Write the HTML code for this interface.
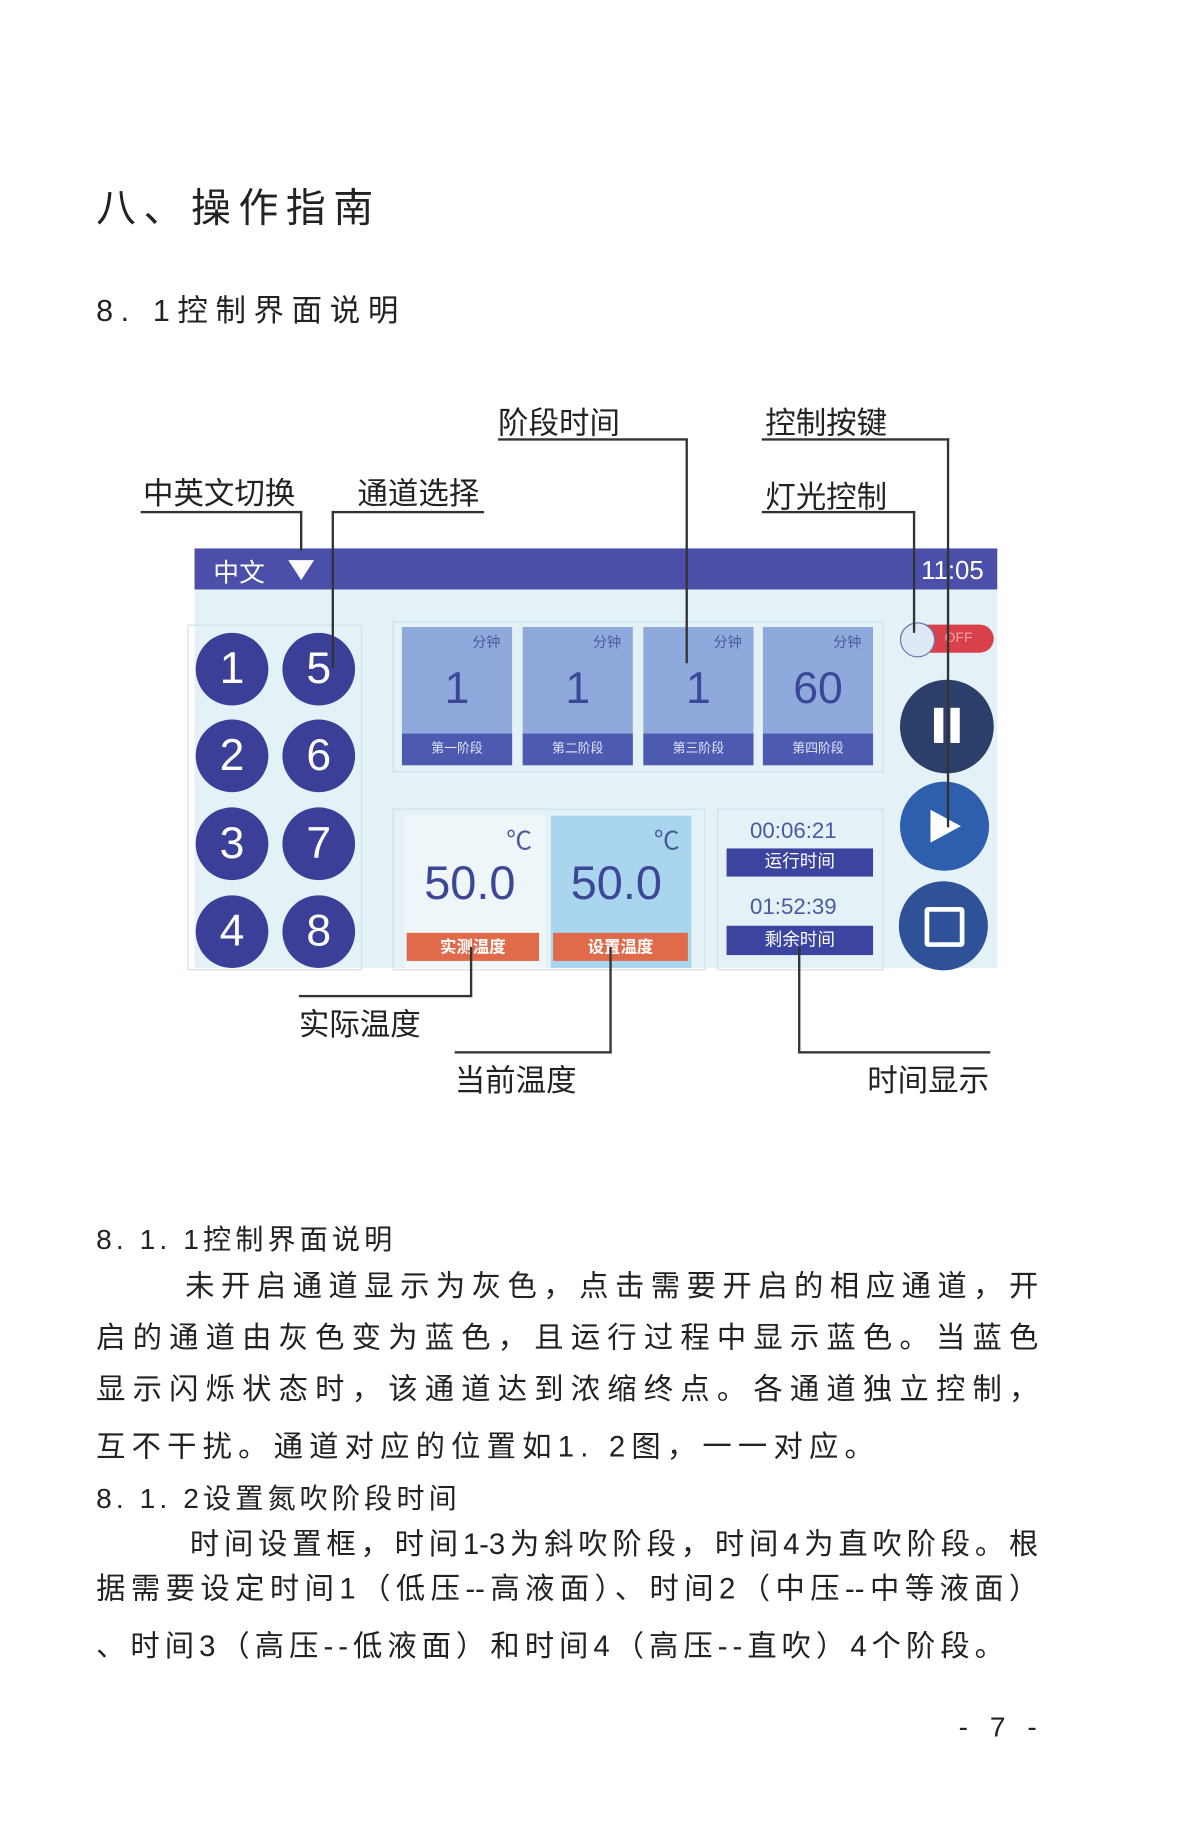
<!DOCTYPE html>
<html><head><meta charset="utf-8"><style>
html,body{margin:0;padding:0;background:#fff;width:1200px;height:1844px;overflow:hidden}
#w{position:absolute;left:0;top:0;width:1024px;height:1574px;transform:scale(1.171875);transform-origin:0 0;font-family:"Liberation Sans","Noto Sans CJK SC",sans-serif;color:#222}
.a{position:absolute;white-space:nowrap}
.l{position:absolute;background:#333}
.j{position:absolute;font-size:25px;text-align:justify;text-align-last:justify;white-space:nowrap;height:30px;line-height:30px}
.c{position:absolute;border-radius:50%;background:#3b3f98;color:#fff;font-size:38px;text-align:center}
.box{position:absolute;top:535px;width:94px;height:118px;background:#8fa9dc}
.box .u{position:absolute;right:10px;top:4px;font-size:12px;color:#4a5a9a}
.box .n{position:absolute;left:0;right:0;top:32px;text-align:center;font-size:38px;color:#3c4796}
.box .b{position:absolute;left:0;right:0;bottom:0;height:27px;background:#4c5bb0;color:#dfe4ff;font-size:11px;text-align:center;line-height:27px}
</style></head><body><div id="w">
<div class="a" style="left:82px;top:150px;font-size:34px;letter-spacing:6.5px">八、操作指南</div>
<div class="a" style="left:82px;top:245px;font-size:26px;letter-spacing:6.5px">8. 1控制界面说明</div>

<!-- top labels -->
<div class="a" style="left:425px;top:341px;font-size:26px">阶段时间</div>
<div class="a" style="left:653px;top:341px;font-size:26px">控制按键</div>
<div class="a" style="left:122px;top:401px;font-size:26px">中英文切换</div>
<div class="a" style="left:305px;top:401px;font-size:26px">通道选择</div>
<div class="a" style="left:653px;top:404px;font-size:26px">灯光控制</div>

<!-- screen -->
<div style="position:absolute;left:166px;top:468px;width:685px;height:358px;background:#e4f2f7"></div>
<div style="position:absolute;left:166px;top:468px;width:685px;height:35px;background:#4b4fa9"></div>
<div class="a" style="left:182px;top:471px;font-size:22px;color:#fff">中文</div>
<div style="position:absolute;left:246px;top:478px;width:0;height:0;border-left:11px solid transparent;border-right:11px solid transparent;border-top:17px solid #fff"></div>
<div class="a" style="left:786px;top:474px;font-size:22px;color:#fff">11:05</div>
<div style="position:absolute;left:160px;top:533px;width:147px;height:293px;border:1px solid #cfe0ea"></div>
<div class="c" style="left:167px;top:540px;width:62px;height:62px;line-height:62px">1</div>
<div class="c" style="left:241px;top:540px;width:62px;height:62px;line-height:62px">5</div>
<div class="c" style="left:167px;top:614px;width:62px;height:62px;line-height:62px">2</div>
<div class="c" style="left:241px;top:614px;width:62px;height:62px;line-height:62px">6</div>
<div class="c" style="left:167px;top:689px;width:62px;height:62px;line-height:62px">3</div>
<div class="c" style="left:241px;top:689px;width:62px;height:62px;line-height:62px">7</div>
<div class="c" style="left:167px;top:764px;width:62px;height:62px;line-height:62px">4</div>
<div class="c" style="left:241px;top:764px;width:62px;height:62px;line-height:62px">8</div>

<div style="position:absolute;left:335px;top:530px;width:417px;height:127px;border:1px solid #cfe0ea"></div>
<div class="box" style="left:343px"><div class="u">分钟</div><div class="n">1</div><div class="b">第一阶段</div></div>
<div class="box" style="left:446px"><div class="u">分钟</div><div class="n">1</div><div class="b">第二阶段</div></div>
<div class="box" style="left:549px"><div class="u">分钟</div><div class="n">1</div><div class="b">第三阶段</div></div>
<div class="box" style="left:651px"><div class="u">分钟</div><div class="n">60</div><div class="b">第四阶段</div></div>

<div style="position:absolute;left:768px;top:533px;width:80px;height:24px;border-radius:12px;background:#d8404a"></div>
<div class="a" style="left:806px;top:537px;font-size:12px;color:#f5a0a0">OFF</div>
<div style="position:absolute;left:768px;top:531px;width:28px;height:28px;border-radius:50%;background:#dfe8f5;border:1px solid #6a78b0"></div>
<div style="position:absolute;left:768px;top:580px;width:80px;height:80px;border-radius:50%;background:#2c3f6a"></div>
<div style="position:absolute;left:797px;top:604px;width:8px;height:30px;background:#fff"></div>
<div style="position:absolute;left:811px;top:604px;width:8px;height:30px;background:#fff"></div>
<div style="position:absolute;left:768px;top:667px;width:76px;height:76px;border-radius:50%;background:#2e5eae"></div>
<div style="position:absolute;left:794px;top:691px;width:0;height:0;border-top:14px solid transparent;border-bottom:14px solid transparent;border-left:26px solid #fff"></div>
<div style="position:absolute;left:767px;top:752px;width:76px;height:76px;border-radius:50%;background:#2e5198"></div>
<div style="position:absolute;left:789px;top:774px;width:26px;height:26px;border:4px solid #fff;border-radius:3px"></div>

<div style="position:absolute;left:335px;top:690px;width:265px;height:136px;border:1px solid #cfe0ea"></div>
<div style="position:absolute;left:345px;top:696px;width:120px;height:130px;background:#eef6fa"></div>
<div style="position:absolute;left:470px;top:696px;width:120px;height:130px;background:#a9d5ef"></div>
<div class="a" style="left:432px;top:700px;font-size:22px;color:#4a5aa0">℃</div>
<div class="a" style="left:558px;top:700px;font-size:22px;color:#4a5aa0">℃</div>
<div class="a" style="left:362px;top:732px;font-size:40px;color:#3c4796">50.0</div>
<div class="a" style="left:487px;top:732px;font-size:40px;color:#3c4796">50.0</div>
<div style="position:absolute;left:347px;top:796px;width:113px;height:24px;background:#df6b4b;color:#fff;font-size:14px;text-align:center;line-height:24px;font-weight:bold">实测温度</div>
<div style="position:absolute;left:472px;top:796px;width:115px;height:24px;background:#df6b4b;color:#fff;font-size:14px;text-align:center;line-height:24px;font-weight:bold">设置温度</div>

<div style="position:absolute;left:612px;top:690px;width:140px;height:136px;border:1px solid #cfe0ea"></div>
<div class="a" style="left:640px;top:699px;font-size:19px;color:#4a5aa0">00:06:21</div>
<div style="position:absolute;left:620px;top:724px;width:125px;height:24px;background:#3b449e;color:#fff;font-size:15px;text-align:center;line-height:24px">运行时间</div>
<div class="a" style="left:640px;top:764px;font-size:19px;color:#4a5aa0">01:52:39</div>
<div style="position:absolute;left:620px;top:790px;width:125px;height:25px;background:#3b449e;color:#fff;font-size:15px;text-align:center;line-height:25px">剩余时间</div>

<!-- leader lines -->
<div class="l" style="left:425px;top:374px;width:161px;height:2px"></div>
<div class="l" style="left:585px;top:374px;width:2px;height:192px"></div>
<div class="l" style="left:650px;top:374px;width:160px;height:2px"></div>
<div class="l" style="left:808px;top:374px;width:2px;height:332px"></div>
<div class="l" style="left:120px;top:436px;width:138px;height:2px"></div>
<div class="l" style="left:256px;top:436px;width:2px;height:34px"></div>
<div class="l" style="left:283px;top:436px;width:130px;height:2px"></div>
<div class="l" style="left:283px;top:436px;width:2px;height:134px"></div>
<div class="l" style="left:650px;top:436px;width:131px;height:2px"></div>
<div class="l" style="left:779px;top:436px;width:2px;height:104px"></div>
<div class="l" style="left:401px;top:808px;width:2px;height:42px"></div>
<div class="l" style="left:255px;top:849px;width:148px;height:2px"></div>
<div class="a" style="left:255px;top:854px;font-size:26px">实际温度</div>
<div class="l" style="left:520px;top:808px;width:2px;height:90px"></div>
<div class="l" style="left:388px;top:897px;width:134px;height:2px"></div>
<div class="a" style="left:388px;top:902px;font-size:26px">当前温度</div>
<div class="l" style="left:681px;top:808px;width:2px;height:90px"></div>
<div class="l" style="left:681px;top:897px;width:164px;height:2px"></div>
<div class="a" style="left:740px;top:902px;font-size:26px">时间显示</div>

<!-- body text -->
<div class="a" style="left:82px;top:1038px;font-size:24px;letter-spacing:3.5px">8. 1. 1控制界面说明</div>
<div class="j" style="left:158px;top:1083px;width:728px">未开启通道显示为灰色，点击需要开启的相应通道，开</div>
<div class="j" style="left:82px;top:1127px;width:804px">启的通道由灰色变为蓝色，且运行过程中显示蓝色。当蓝色</div>
<div class="j" style="left:82px;top:1171px;width:804px">显示闪烁状态时，该通道达到浓缩终点。各通道独立控制，</div>
<div class="a" style="left:82px;top:1215px;font-size:25px;letter-spacing:5.3px">互不干扰。通道对应的位置如1. 2图，一一对应。</div>
<div class="a" style="left:82px;top:1259px;font-size:24px;letter-spacing:3.5px">8. 1. 2设置氮吹阶段时间</div>
<div class="j" style="left:162px;top:1303px;width:724px">时间设置框，时间1-3为斜吹阶段，时间4为直吹阶段。根</div>
<div class="j" style="left:82px;top:1341px;width:804px">据需要设定时间1（低压--高液面）、时间2（中压--中等液面）</div>
<div class="a" style="left:82px;top:1385px;font-size:25px;letter-spacing:4.3px">、时间3（高压--低液面）和时间4（高压--直吹）4个阶段。</div>
<div class="a" style="left:818px;top:1461px;font-size:24px;letter-spacing:6px">- 7 -</div>
</div></body></html>
